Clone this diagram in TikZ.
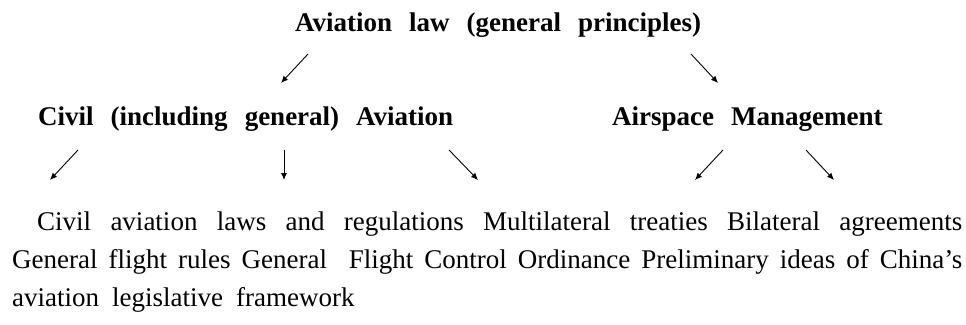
\documentclass[tikz,border=0pt]{standalone}
\usepackage{fontspec}
\setmainfont{Liberation Serif}
\usetikzlibrary{arrows.meta}
\newcommand{\headfont}{\bfseries\fontsize{27}{32}\selectfont\spaceskip=17pt\relax}
\newcommand{\bodyfont}{\fontsize{27}{38}\selectfont\spaceskip=13pt plus 20pt minus 3pt\relax}

\begin{document}
\begin{tikzpicture}[
    x=1pt, y=-1pt,
    head/.style={inner sep=0pt, anchor=base west, font=\headfont},
    body/.style={inner sep=0pt, anchor=base west, text width=950pt, align=justify, font=\bodyfont},
    arr/.style={-{Latex[length=7pt,width=6pt]}, line width=0.9pt}
]
\useasboundingbox (0,0) rectangle (966,324);
\node[head] (law) at (295,31) {Aviation law (general principles)};
\node[head] (civil) at (38,125) {Civil (including general) Aviation};
\node[head] (air) at (612,125) {Airspace Management};
\node[body] (items) at (12,230) {\hspace*{25pt}Civil aviation laws and regulations Multilateral treaties Bilateral agreements\linebreak
General flight rules General\ \ Flight Control Ordinance Preliminary ideas of China's\linebreak
aviation legislative framework};
% arrow ends
\coordinate (lawL) at (308,54);  \coordinate (civilT) at (281,83);
\coordinate (lawR) at (691,54);  \coordinate (airT) at (718,83);
\coordinate (civ1) at (78,150);  \coordinate (itm1) at (50,180);
\coordinate (civ2) at (284,150); \coordinate (itm2) at (284,180);
\coordinate (civ3) at (449,150); \coordinate (itm3) at (478,180);
\coordinate (air1) at (723,150); \coordinate (itm4) at (695,180);
\coordinate (air2) at (806,150); \coordinate (itm5) at (834,180);
\draw[arr] (lawL) -- (civilT);
\draw[arr] (lawR) -- (airT);
\draw[arr] (civ1) -- (itm1);
\draw[arr] (civ2) -- (itm2);
\draw[arr] (civ3) -- (itm3);
\draw[arr] (air1) -- (itm4);
\draw[arr] (air2) -- (itm5);
\end{tikzpicture}
\end{document}
